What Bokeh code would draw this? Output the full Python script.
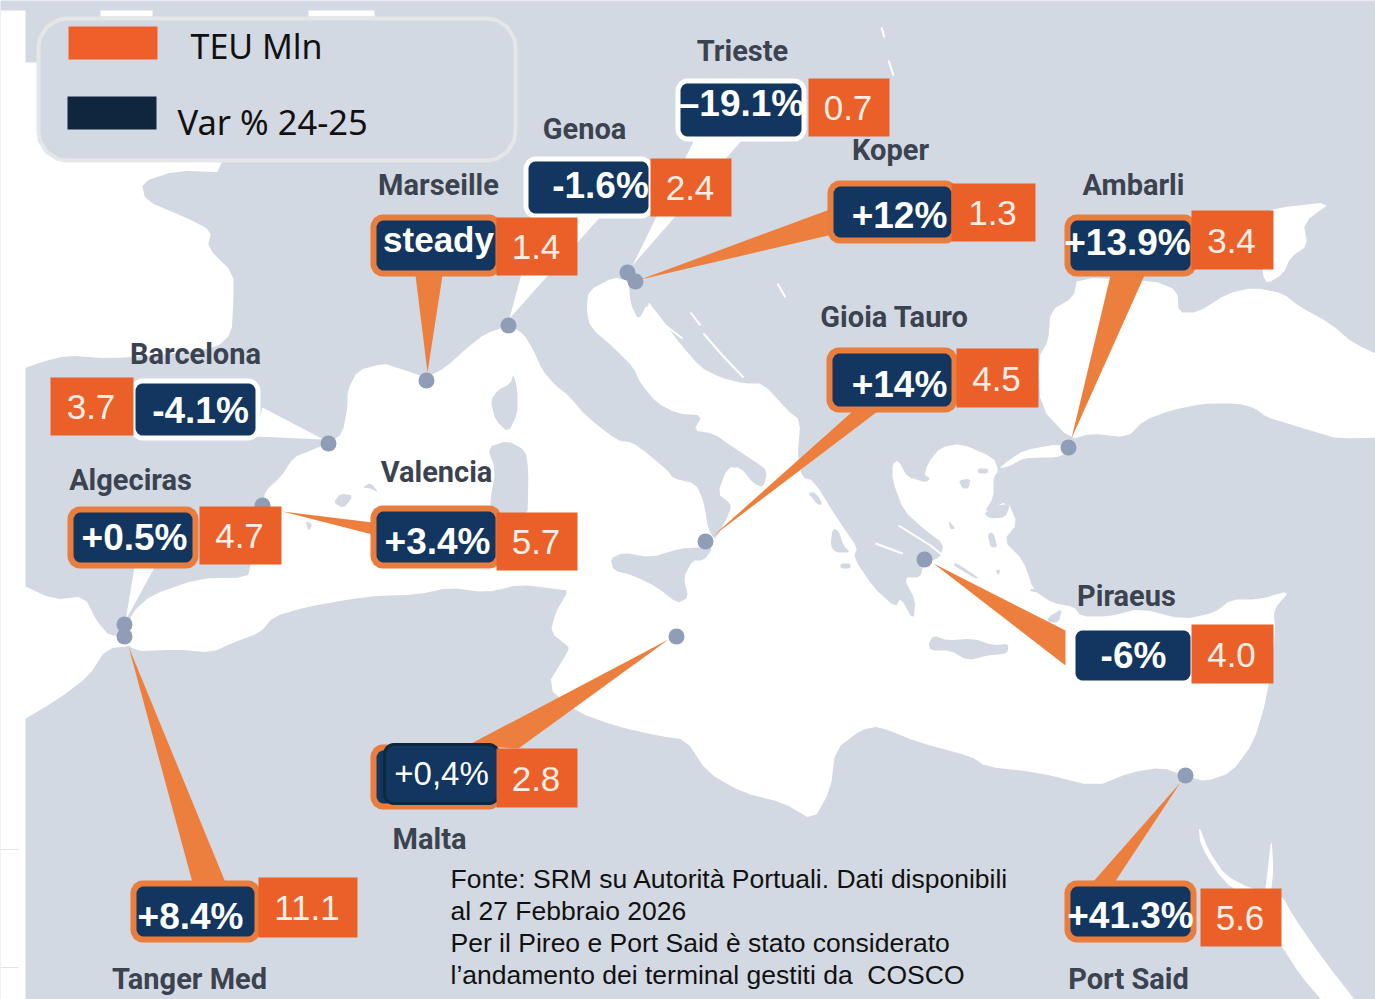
from bokeh.plotting import figure
from bokeh.models import Range1d
from bokeh.core.properties import value
from bokeh.embed import file_html
from bokeh.resources import INLINE

# ---------- chart values ----------
ports = ["Trieste", "Genoa", "Marseille", "Koper", "Ambarli", "Gioia Tauro", "Barcelona",
         "Algeciras", "Valencia", "Piraeus", "Malta", "Tanger Med", "Port Said"]
var_labels = ["\u201319.1%", "-1.6%", "steady", "+12%", "+13.9%", "+14%", "-4.1%",
              "+0.5%", "+3.4%", "-6%", "+0,4%", "+8.4%", "+41.3%"]
teu_values = [0.7, 2.4, 1.4, 1.3, 3.4, 4.5, 3.7, 4.7, 5.7, 4.0, 2.8, 11.1, 5.6]
legend_labels = ["TEU Mln", "Var % 24-25"]
source_lines = ["Fonte: SRM su Autorit\u00e0 Portuali. Dati disponibili",
                "al 27 Febbraio 2026",
                "Per il Pireo e Port Said \u00e8 stato considerato",
                "l\u2019andamento dei terminal gestiti da \u00a0COSCO"]

# ---------- placement in picture pixels ----------
label_xy = [(742, 50), (584, 128), (438, 184), (890, 149), (1133, 184), (894, 316), (195, 353),
            (130, 479), (436, 471), (1126, 595), (429, 838), (189, 978), (1128, 978)]
navy_box = [(680, 83, 801, 136), (528, 161, 648, 213), (376, 220, 495, 270), (833, 186, 951, 237),
            (1070, 220, 1190, 270), (832, 353, 951, 406), (135, 383, 255, 435), (73, 512, 192, 562),
            (376, 511, 495, 562), (1075, 630, 1190, 680), (376, 750, 495, 803), (136, 886, 254, 936),
            (1070, 886, 1190, 936)]
frame_color = ["#ffffff", "#ffffff", "#e87d3e", "#e87d3e", "#e87d3e", "#e87d3e", "#ffffff",
               "#e87d3e", "#e87d3e", None, "#e87d3e", "#e87d3e", "#e87d3e"]
var_xy = [(741, 103), (600, 185), (438, 239), (899, 215), (1127, 242), (899, 384), (200, 410),
          (134, 537), (437, 541), (1133, 655), (441, 773), (190, 916), (1130, 915)]
teu_box = [(808, 78, 889, 136), (650, 158, 731, 216), (496, 217, 577, 275), (951, 183, 1035, 241),
           (1191, 210, 1273, 269), (956, 348, 1038, 407), (50, 377, 133, 435), (199, 506, 281, 564),
           (496, 512, 577, 570), (1191, 624, 1273, 683), (496, 748, 577, 807), (258, 877, 357, 937),
           (1200, 888, 1281, 946)]
dots_xy = [(627, 272), (635, 281), (508, 325), (426, 380), (328, 443), (262, 505), (124, 624),
           (124, 636), (705, 541), (676, 636), (924, 559), (1068, 447), (1185, 775)]
orange_pointers = [
    [(415, 275), (442, 275), (427, 372)],
    [(832, 208), (832, 234), (640, 279)],
    [(1110, 275), (1144, 275), (1071, 438)],
    [(852, 411), (877, 411), (712, 536)],
    [(282, 511), (372, 522), (372, 534)],
    [(467, 745), (518, 748), (668, 639)],
    [(192, 882), (225, 882), (128, 646)],
    [(1092, 882), (1114, 882), (1180, 782)],
    [(933, 563), (1065, 630), (1065, 665)],
]
white_pointers = [
    [(694, 139), (742, 139), (632, 265)],
    [(537, 214), (602, 214), (509, 318)],
    [(262, 407), (255, 436), (323, 439)],
    [(134, 567), (154, 567), (125, 620)],
]

# ---------- base map outlines ----------
atlantic = [(12, 62), (24, 62), (225, 62), (227, 172), (176, 170), (141, 182), (145, 200), (185, 217), (211, 230),
            (207, 247), (233, 273), (233, 300), (231, 333), (216, 347), (176, 353), (110, 358), (66, 355),
            (40, 362), (12, 372)]
atlantic_south = [(12, 580), (53, 599), (84, 596), (97, 622), (110, 636), (135, 634), (135, 645), (106, 648),
                  (88, 676), (57, 699), (12, 726)]
mediterranean = [
    (125, 632), (132, 612), (150, 595), (198, 578), (247, 577), (250, 565), (262, 505), (265, 490),
    (280, 477), (293, 457), (310, 450), (328, 443), (342, 433), (347, 407), (347, 390), (357, 370),
    (383, 363), (396, 367), (426, 377), (445, 367), (467, 347), (485, 333), (509, 325), (523, 333),
    (533, 350), (542, 370), (555, 385), (568, 395), (587, 417), (617, 440), (632, 442), (647, 453),
    (667, 470), (673, 478), (695, 483), (703, 500), (708, 530), (715, 540), (730, 510), (730, 503),
    (717, 493), (727, 467), (740, 467), (753, 483), (763, 487), (767, 470), (753, 460), (733, 447),
    (713, 433), (693, 430), (702, 415), (677, 413), (657, 403), (640, 383), (633, 367), (613, 347),
    (590, 327), (586, 310), (588, 290), (613, 277), (628, 280), (630, 303), (638, 320), (647, 303),
    (657, 313), (677, 340), (700, 367), (720, 377), (743, 383), (763, 383), (787, 410), (800, 420),
    (797, 457), (802, 477), (813, 480), (840, 523), (857, 547), (853, 557), (873, 587), (895, 607),
    (900, 597), (913, 620), (915, 600), (903, 577), (920, 577), (923, 563), (940, 557), (943, 543),
    (925, 530), (903, 510), (892, 480), (892, 463), (898, 460), (907, 477), (923, 480), (927, 463),
    (940, 447), (960, 443), (993, 457), (998, 470), (993, 477), (993, 497), (983, 513), (1007, 500),
    (1017, 523), (1003, 540), (1023, 560), (1033, 590), (1053, 603), (1073, 606), (1081, 616),
    (1108, 616), (1140, 608), (1183, 619), (1214, 612), (1231, 599), (1258, 599), (1290, 590),
    (1273, 609), (1275, 632), (1266, 699), (1253, 742), (1231, 772), (1205, 781), (1187, 776),
    (1161, 767), (1130, 772), (1095, 786), (1037, 772), (985, 766), (971, 756), (918, 742), (879, 726),
    (861, 729), (835, 749), (830, 789), (813, 820), (782, 802), (742, 792), (707, 772), (685, 739),
    (661, 736), (617, 726), (577, 712), (546, 686), (568, 650), (568, 646), (550, 632), (555, 612),
    (568, 590), (559, 589), (520, 584), (485, 592), (449, 587), (418, 594), (366, 596), (308, 606),
    (273, 616), (260, 632), (233, 642), (211, 652), (176, 649), (132, 651)]
black_sea = [(1070, 439), (1040, 407), (1038, 357), (1048, 340), (1050, 310), (1073, 297), (1077, 277),
             (1153, 280), (1177, 290), (1178, 312), (1197, 312), (1227, 293), (1253, 287), (1283, 293),
             (1297, 305), (1330, 323), (1353, 343), (1395, 362), (1395, 437), (1337, 438), (1320, 433),
             (1287, 423), (1267, 417), (1253, 407), (1237, 403), (1203, 403), (1170, 410), (1143, 420),
             (1127, 437), (1090, 433)]
marmara = [(998, 468), (1008, 460), (1023, 450), (1060, 443), (1066, 453), (1055, 457), (1040, 457),
           (1023, 458), (1008, 466)]
azov = [(1260, 215), (1273, 208), (1332, 201), (1303, 222), (1307, 245), (1290, 257), (1283, 273),
        (1267, 283), (1262, 275)]
red_sea = [(1198, 824), (1208, 850), (1225, 875), (1250, 888), (1281, 894), (1293, 916), (1320, 955),
           (1364, 1012), (1332, 1012), (1300, 975), (1284, 950), (1270, 930), (1250, 900), (1222, 880),
           (1200, 845)]
aqaba = [(1271, 835), (1266, 880), (1264, 895), (1270, 895), (1273, 870)]
white_notches = [[(100, 10), (152, 10), (152, 16), (100, 16)], [(308, 10), (374, 10), (374, 16), (308, 16)]]

islands = [
    [(513, 373), (517, 390), (517, 413), (508, 432), (495, 420), (490, 400), (497, 390), (510, 383)],
    [(487, 447), (507, 440), (525, 450), (528, 470), (527, 520), (490, 520), (490, 497), (495, 470)],
    [(333, 502), (340, 493), (353, 495), (343, 508)],
    [(362, 487), (370, 482), (378, 492), (370, 488)],
    [(305, 520), (312, 524), (308, 531)],
    [(610, 558), (623, 552), (650, 557), (680, 548), (697, 547), (713, 547), (703, 560), (692, 560),
     (683, 577), (688, 597), (677, 603), (657, 587), (633, 575), (613, 570)],
    [(807, 492), (815, 492), (822, 503), (818, 505)],
    [(832, 528), (838, 530), (843, 545), (850, 552), (835, 552), (830, 545)],
    [(840, 563), (850, 563), (850, 568), (840, 568)],
    [(928, 643), (933, 635), (947, 640), (973, 638), (993, 645), (1008, 643), (1007, 653), (987, 655),
     (967, 660), (950, 650), (930, 650)],
    [(983, 513), (997, 505), (1010, 503), (1005, 517), (990, 518)],
    [(987, 533), (993, 532), (997, 547), (990, 547)],
    [(958, 480), (970, 478), (968, 488), (962, 488)],
    [(977, 468), (988, 468), (987, 473), (978, 473)],
    [(948, 520), (955, 528), (950, 529)],
    [(955, 562), (978, 577), (975, 578), (953, 565)],
    [(1047, 617), (1062, 608), (1058, 622), (1048, 622)],
    [(1030, 588), (1050, 590), (1048, 593), (1030, 591)],
    [(995, 570), (1000, 569), (998, 575)],
    [(913, 478), (922, 473), (930, 478), (925, 482)],
]
white_slivers = [
    [(703, 333), (722, 355), (743, 377)],
    [(648, 303), (665, 325), (682, 338)],
    [(690, 312), (700, 325)],
    [(777, 283), (785, 297)],
    [(881, 27), (884, 37)],
    [(888, 60), (893, 75)],
    [(875, 543), (902, 553)],
    [(898, 525), (930, 545), (945, 557)],
]

LAND = "#d3d9e2"
NAVY = "#12365f"
ORANGE = "#ea6028"
POINTER = "#ec7f3e"


def rounded(x0, y0, x1, y1, r):
    """Polygon outline of a rounded rectangle."""
    steps = [(0.0, 1.0), (0.3, 0.95), (0.7, 0.7), (0.95, 0.3), (1.0, 0.0)]
    xs, ys = [], []
    for a, b in steps:
        xs.append(x1 - r + r * a); ys.append(y0 + r - r * b)
    for a, b in reversed(steps):
        xs.append(x1 - r + r * a); ys.append(y1 - r + r * b)
    for a, b in steps:
        xs.append(x0 + r - r * a); ys.append(y1 - r + r * b)
    for a, b in reversed(steps):
        xs.append(x0 + r - r * a); ys.append(y0 + r - r * b)
    return xs, ys


def soften(outline):
    """Cut the corners of a coast outline once, so that it reads as a coast."""
    out = []
    n = len(outline)
    for i in range(n):
        (ax, ay), (bx, by) = outline[i], outline[(i + 1) % n]
        out.append((0.8 * ax + 0.2 * bx, 0.8 * ay + 0.2 * by))
        out.append((0.2 * ax + 0.8 * bx, 0.2 * ay + 0.8 * by))
    return out


def polys(items, color):
    p.patches([[c[0] for c in it] for it in items], [[c[1] for c in it] for it in items],
              fill_color=color, line_color=None)


p = figure(width=1375, height=999, x_range=Range1d(0, 1375), y_range=Range1d(999, 0),
           x_axis_type=None, y_axis_type=None, toolbar_location=None, output_backend="svg",
           min_border=0, outline_line_color=None, background_fill_color=LAND, border_fill_color="#ffffff")
p.grid.visible = False

polys(white_notches + [soften(s) for s in (atlantic, atlantic_south, mediterranean, black_sea, marmara,
                                          azov, red_sea, aqaba)], "#ffffff")
# page-side strip and faint edges
polys([[(0, 10), (25, 10), (25, 999), (0, 999)]], "#ffffff")
p.multi_line([[0, 18], [0, 18]], [[849, 849], [967, 967]], line_color="#e2e4e7", line_width=1)
polys([soften(s) for s in islands], LAND)
p.multi_line([[c[0] for c in s] for s in white_slivers], [[c[1] for c in s] for s in white_slivers],
             line_color="#ffffff", line_width=2)

polys(white_pointers, "#ffffff")
p.scatter([c[0] for c in dots_xy], [c[1] for c in dots_xy], size=16, fill_color="#909db6", line_color=None)
polys(orange_pointers, POINTER)

# legend
lx, ly = rounded(38, 18, 515, 160, 28)
p.patch(lx, ly, fill_color=LAND, line_color="#e4e6e8", line_width=4)
p.quad(left=[68], right=[157], top=[26], bottom=[59], fill_color="#ef5f2a", line_color=None)
p.quad(left=[67], right=[156], top=[96], bottom=[129], fill_color="#10263f", line_color=None)
p.text([190], [45], text=legend_labels[:1], text_font=value("Noto Sans"), text_font_size=value("34px"),
       text_color="#111111", text_align="left", text_baseline="middle")
p.text([177], [121], text=legend_labels[1:], text_font=value("Noto Sans"), text_font_size=value("34.5px"),
       text_color="#111111", text_align="left", text_baseline="middle")

# call-out boxes: frame first, navy on top
for (x0, y0, x1, y1), c in zip(navy_box, frame_color):
    if c:
        d = 5 if c == "#ffffff" else 6
        fx, fy = rounded(x0 - d, y0 - d, x1 + d, y1 + d, 12)
        p.patch(fx, fy, fill_color=c, line_color=None)
    bx, by = rounded(x0, y0, x1, y1, 7)
    p.patch(bx, by, fill_color=NAVY, line_color=None)
# the Malta label has a second box laid on top of the first
mx, my = rounded(384, 744, 498, 803, 9)
p.patch(mx, my, fill_color=NAVY, line_color="#0b2a40", line_width=3)

p.quad(left=[b[0] for b in teu_box], right=[b[2] for b in teu_box], top=[b[1] for b in teu_box],
       bottom=[b[3] for b in teu_box], fill_color=ORANGE, line_color=None)

# texts
reg = var_labels.index("+0,4%")
stead = var_labels.index("steady")
bold_i = [i for i in range(len(var_labels)) if i not in (reg, stead)]
p.text([var_xy[i][0] for i in bold_i], [var_xy[i][1] for i in bold_i], text=[var_labels[i] for i in bold_i],
       text_font=value("Liberation Sans"), text_font_style="bold", text_font_size=value("37px"),
       text_color="#ffffff", text_align="center", text_baseline="middle")
p.text([var_xy[stead][0]], [var_xy[stead][1]], text=[var_labels[stead]], text_font=value("Liberation Sans"),
       text_font_style="bold", text_font_size=value("35px"), text_color="#ffffff", text_align="center",
       text_baseline="middle")
p.text([var_xy[reg][0]], [var_xy[reg][1]], text=[var_labels[reg]], text_font=value("Liberation Sans"),
       text_font_size=value("33px"), text_color="#ffffff", text_align="center", text_baseline="middle")
p.text([(b[0] + b[2]) / 2 - 1 for b in teu_box], [(b[1] + b[3]) / 2 + 0.5 for b in teu_box],
       text=[f"{v:.1f}" for v in teu_values], text_font=value("Liberation Sans"), text_font_size=value("35px"),
       text_color="#fbeee6", text_align="center", text_baseline="middle")
p.text([c[0] for c in label_xy], [c[1] for c in label_xy], text=ports, text_font=value("Roboto"),
       text_font_style="bold", text_font_size=value("29px"), text_color="#3c4350", text_align="center",
       text_baseline="middle")
p.text([450] * 4, [878, 910, 942, 974], text=source_lines, text_font=value("Liberation Sans"),
       text_font_size=value("26.5px"), text_color="#111111", text_align="left", text_baseline="middle")

open("out.html", "w").write(file_html(p, INLINE))
